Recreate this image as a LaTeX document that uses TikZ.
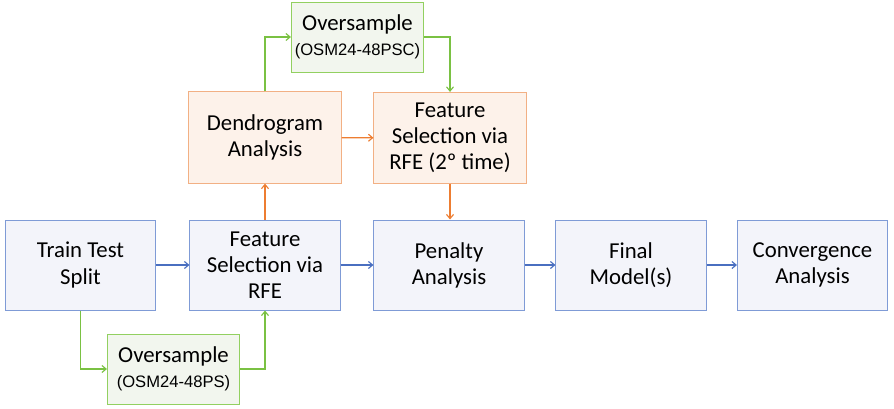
\documentclass[tikz,border=0pt]{standalone}
\usepackage{fontspec}
\setmainfont{Carlito}
\newfontfamily\smallsans{Liberation Sans}
\usetikzlibrary{arrows.meta}
\definecolor{bluefill}{HTML}{F3F4FA}
\definecolor{blueline}{HTML}{7F9BD6}
\definecolor{bluearrow}{HTML}{4A6FC0}
\definecolor{orangefill}{HTML}{FDF2EA}
\definecolor{orangeline}{HTML}{F2B084}
\definecolor{orangearrow}{HTML}{ED7D31}
\definecolor{greenfill}{HTML}{F2F6EE}
\definecolor{greenline}{HTML}{92D060}
\definecolor{greenarrow}{HTML}{7AC143}

\begin{document}
\begin{tikzpicture}[x=0.025cm, y=-0.025cm,
	every node/.style={align=center, font=\fontsize{16.2}{18.6}\selectfont, inner sep=0pt},
	bluebox/.style={draw=blueline, line width=0.7pt, fill=bluefill, minimum width=3.75cm, minimum height=2.25cm},
	orangebox/.style={draw=orangeline, line width=0.7pt, fill=orangefill, minimum width=3.8cm, minimum height=2.28cm},
	greenbox/.style={draw=greenline, line width=0.7pt, fill=greenfill, minimum width=3.3cm, minimum height=1.75cm},
	bluelink/.style={draw=bluearrow, line width=0.8pt, -{Straight Barb[length=3pt,width=5pt]}},
	orangelink/.style={draw=orangearrow, line width=0.8pt, -{Straight Barb[length=3pt,width=5pt]}},
	greenlink/.style={draw=greenarrow, line width=0.8pt, -{Straight Barb[length=3pt,width=5pt]}}]
	%%%%% START %%%%%
	\useasboundingbox (0, 0) rectangle (894, 408);
	
	% main row
	\node[bluebox] (train) at (80.5, 265) {Train Test\\Split};
	\node[bluebox] (fsrfe) at (265, 265) {Feature\\Selection via\\RFE};
	\node[bluebox] (penalty) at (449, 265) {Penalty\\Analysis};
	\node[bluebox] (final) at (631, 265) {Final\\Model(s)};
	\node[bluebox] (conv) at (812.5, 265) {Convergence\\Analysis};
	
	% upper branch
	\node[orangebox] (dendro) at (265, 137.5) {Dendrogram\\Analysis};
	\node[orangebox] (fsrfetwo) at (450, 138) {Feature\\Selection via\\RFE (2º time)};
	
	% oversampling
	\node[greenbox] (osctop) at (357.5, 37) {Oversample\\[-1pt]{\smallsans\fontsize{11.8}{13}\selectfont(OSM24-48PSC)}};
	\node[greenbox] (osbot) at (173.5, 369) {Oversample\\[-1pt]{\smallsans\fontsize{11.8}{13}\selectfont(OSM24-48PS)}};
	
	\draw[bluelink] (train) -- (fsrfe);
	\draw[bluelink] (fsrfe) -- (penalty);
	\draw[bluelink] (penalty) -- (final);
	\draw[bluelink] (final) -- (conv);
	
	\draw[greenlink] (train.south) |- (osbot.west);
	\draw[greenlink] (osbot.east) -| (fsrfe.south);
	\draw[greenlink] (dendro.north) |- (osctop.west);
	\draw[greenlink] (osctop.east) -| (fsrfetwo.north);
	
	\draw[orangelink] (fsrfe) -- (dendro);
	\draw[orangelink] (dendro) -- (fsrfetwo);
	\draw[orangelink] (fsrfetwo.south) -- (fsrfetwo.south |- penalty.north);
	%%%%% END %%%%%
\end{tikzpicture}
\end{document}
